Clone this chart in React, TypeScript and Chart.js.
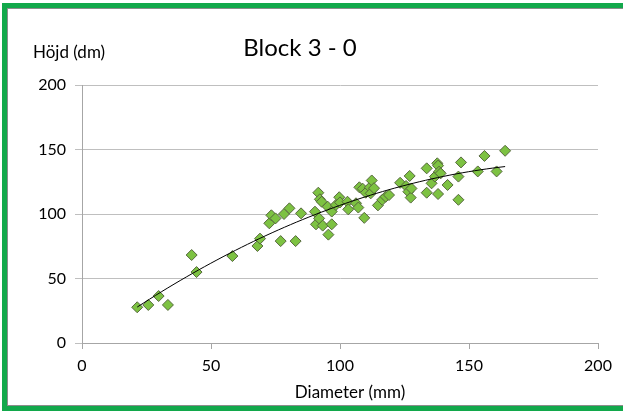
import React, { useEffect, useRef } from "react";
import { Chart, registerables } from "chart.js";

Chart.register(...registerables);

// Stem diameter (mm) and tree height (dm) per measured tree
const diameters: number[] = [
  21.4, 25.7, 29.7, 33.3, 42.5, 44.4, 58.3, 68, 69, 72.6,
  73.4, 75, 77, 78.3, 80.4, 82.8, 84.9, 90.3, 90.7, 91.6,
  91.9, 92.2, 92.9, 93.3, 95.2, 95.5, 96.8, 96.8, 98.4, 99.7,
  100, 102.9, 103.2, 106.2, 107.1, 107.5, 108.8, 109.4, 110, 111.6,
  111.9, 112.3, 113.2, 114.7, 116.4, 117.7, 119, 123.3, 125.6, 126.5,
  127, 127.4, 127.7, 133.6, 133.6, 135.5, 136.8, 137.7, 138, 138.4,
  139, 138, 141.7, 145.9, 145.9, 146.9, 153.4, 156, 160.7, 164,
];
const heights: number[] = [
  27.7, 29.5, 36.4, 29.5, 68.2, 55, 67.4, 75.2, 80.9, 92.8,
  99, 96.6, 79, 100, 104.4, 79, 100.5, 101.8, 92, 116.5,
  96.6, 111.4, 109.5, 91, 105.7, 84, 92, 101.9, 107, 113,
  109, 109.5, 103.6, 108.3, 105, 120.7, 119.6, 97, 116.5, 120.7,
  116, 126, 120, 106.7, 111, 113.4, 114.7, 124.2, 121.7, 117.3,
  129.5, 112.7, 119.8, 116.5, 135.4, 123.8, 129, 139.3, 137.5, 132.8,
  131.5, 115.5, 122.5, 129, 111, 140, 133, 145, 133, 149,
];

const xTicks: number[] = [0, 50, 100, 150, 200];
const yTicks: number[] = [0, 50, 100, 150, 200];

const titleText = "Block 3 - 0";
const yAxisTitle = "Höjd (dm)";
const xAxisTitle = "Diameter (mm)";

const FONT = "Lato, 'Open Sans', sans-serif";

// Second-order least-squares polynomial fit: y = a + b x + c x^2
function quadraticFit(xs: number[], ys: number[]): [number, number, number] {
  let s0 = 0, s1 = 0, s2 = 0, s3 = 0, s4 = 0, t0 = 0, t1 = 0, t2 = 0;
  for (let i = 0; i < xs.length; i++) {
    const x = xs[i], y = ys[i];
    s0 += 1; s1 += x; s2 += x * x; s3 += x * x * x; s4 += x * x * x * x;
    t0 += y; t1 += x * y; t2 += x * x * y;
  }
  const m = [
    [s0, s1, s2, t0],
    [s1, s2, s3, t1],
    [s2, s3, s4, t2],
  ];
  for (let c = 0; c < 3; c++) {
    for (let r = c + 1; r < 3; r++) {
      const f = m[r][c] / m[c][c];
      for (let k = c; k < 4; k++) m[r][k] -= f * m[c][k];
    }
  }
  const sol = [0, 0, 0];
  for (let r = 2; r >= 0; r--) {
    let v = m[r][3];
    for (let k = r + 1; k < 3; k++) v -= m[r][k] * sol[k];
    sol[r] = v / m[r][r];
  }
  return [sol[0], sol[1], sol[2]];
}

const textPlugin = {
  id: "chartTexts",
  afterDraw(chart: any) {
    const { ctx, chartArea } = chart;
    ctx.save();
    ctx.fillStyle = "#000";
    ctx.textBaseline = "middle";
    ctx.textAlign = "center";
    ctx.font = `24px ${FONT}`;
    ctx.fillText(titleText, 300, 48);
    ctx.font = `17px ${FONT}`;
    ctx.textAlign = "left";
    ctx.fillText(yAxisTitle, 33, 53);
    ctx.textAlign = "center";
    ctx.font = `17px ${FONT}`;
    ctx.fillText(xAxisTitle, (chartArea.left + chartArea.right) / 2 + 10, 393);
    ctx.restore();
  },
};

export default function App() {
  const canvasRef = useRef<HTMLCanvasElement | null>(null);

  useEffect(() => {
    if (!canvasRef.current) return;
    const [a, b, c] = quadraticFit(diameters, heights);
    const xMin = Math.min(...diameters);
    const xMax = Math.max(...diameters);
    const trend: { x: number; y: number }[] = [];
    const steps = 60;
    for (let i = 0; i <= steps; i++) {
      const x = xMin + ((xMax - xMin) * i) / steps;
      trend.push({ x, y: a + b * x + c * x * x });
    }
    const points = diameters.map((x, i) => ({ x, y: heights[i] }));

    const chart = new Chart(canvasRef.current, {
      type: "scatter",
      data: {
        datasets: [
          {
            type: "line",
            data: trend,
            borderColor: "#000",
            borderWidth: 1,
            pointRadius: 0,
            fill: false,
            tension: 0,
          } as any,
          {
            data: points,
            pointStyle: "rectRot",
            pointRadius: 5.5,
            backgroundColor: "#7dc242",
            borderColor: "#56683d",
            borderWidth: 1,
          },
        ],
      },
      plugins: [textPlugin],
      options: {
        animation: false,
        responsive: false,
        layout: { padding: { top: 85, right: 25, left: 0, bottom: 0 } },
        plugins: {
          legend: { display: false },
          tooltip: { enabled: false },
          title: { display: false },
        },
        scales: {
          x: {
            type: "linear",
            min: 0,
            max: 200,
            afterBuildTicks: (axis: any) => {
              axis.ticks = xTicks.map((v) => ({ value: v }));
            },
            afterFit: (axis: any) => {
              axis.height = 69;
            },
            grid: {
              drawOnChartArea: false,
              drawTicks: true,
              tickLength: 6,
              color: "#a6a6a6",
            },
            border: { color: "#a6a6a6", width: 1 },
            ticks: {
              color: "#000",
              font: { family: FONT, size: 16 },
              padding: 7,
              maxRotation: 0,
            },
          },
          y: {
            type: "linear",
            min: 0,
            max: 200,
            afterBuildTicks: (axis: any) => {
              axis.ticks = yTicks.map((v) => ({ value: v }));
            },
            afterFit: (axis: any) => {
              axis.width = 82;
            },
            grid: {
              color: "#bfbfbf",
              tickLength: 7,
              lineWidth: 1,
            },
            border: { color: "#a6a6a6", width: 1 },
            ticks: {
              color: "#000",
              font: { family: FONT, size: 16 },
              padding: 9,
            },
          },
        },
      },
    });
    return () => chart.destroy();
  }, []);

  return (
    <div style={{ position: "absolute", left: 0, top: 0, width: 623, height: 412, overflow: "hidden", background: "#fff" }}>
      <div
        style={{
          position: "absolute",
          left: 2,
          top: 3,
          width: 640,
          height: 408,
          boxSizing: "border-box",
          border: "5px solid #12a84b",
        }}
      >
        <div
          style={{
            position: "absolute",
            left: 0,
            top: 0,
            right: 0,
            bottom: 0,
            border: "1px solid #8c8c8c",
            borderRightWidth: 0,
          }}
        />
      </div>
      <canvas ref={canvasRef} width={623} height={412} style={{ position: "absolute", left: 0, top: 0 }} />
    </div>
  );
}
